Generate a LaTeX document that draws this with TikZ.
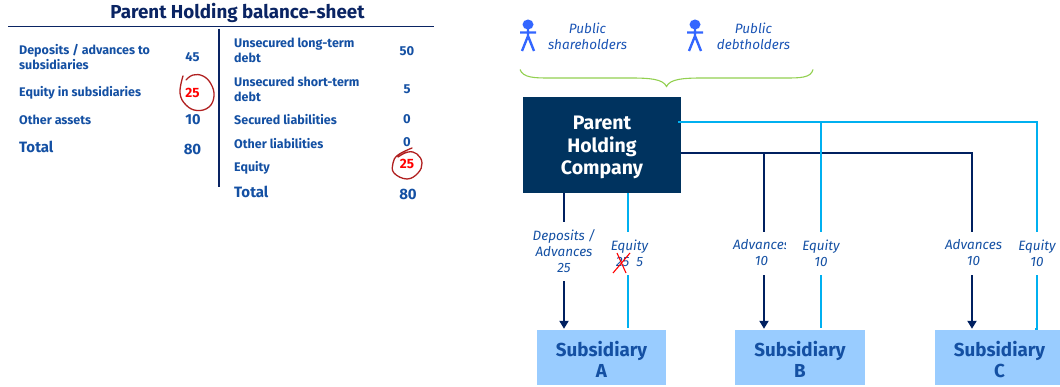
\documentclass[tikz,border=0pt]{standalone}
\usepackage{fontspec}
\setmainfont{Fira Sans}
\usetikzlibrary{arrows.meta}
\definecolor{tnavy}{HTML}{0A2463}
\definecolor{tblue}{HTML}{1450A3}
\definecolor{lnavy}{HTML}{002060}
\definecolor{lcyan}{HTML}{00B0F0}
\definecolor{pbox}{HTML}{00335F}
\definecolor{sbox}{HTML}{99CCFF}
\definecolor{pers}{HTML}{3366FF}
\definecolor{ink}{HTML}{B02020}
\definecolor{pgreen}{HTML}{92D050}
\tikzset{
  x=1pt,y=-1pt,
  rowtext/.style={anchor=west,inner sep=0,align=left,text=tblue,font=\bfseries\fontsize{12.5}{15}\selectfont},
  totaltext/.style={anchor=west,inner sep=0,text=tblue,font=\bfseries\fontsize{15}{18}\selectfont},
  numtext/.style={inner sep=0,text=tblue,font=\bfseries\fontsize{13}{15}\selectfont},
  totalnum/.style={inner sep=0,text=tblue,font=\bfseries\fontsize{15}{18}\selectfont},
  rednum/.style={inner sep=0,text=red,font=\bfseries\fontsize{13.5}{15}\selectfont},
  redring/.style={draw=ink,line width=1.3pt,line cap=round},
  parentbox/.style={fill=pbox,inner sep=0,minimum width=158pt,minimum height=96pt},
  subbox/.style={fill=sbox,inner sep=0,minimum height=55pt},
  parenttext/.style={inner sep=0,align=center,text=white,font=\bfseries\fontsize{19.5}{22.5}\selectfont},
  subtext/.style={inner sep=0,align=center,text=tblue,font=\bfseries\fontsize{18.8}{21.5}\selectfont},
  flowlabel/.style={inner sep=0,align=center,text=tblue,minimum height=44pt,font=\itshape\fontsize{13.5}{16}\selectfont},
  publabel/.style={inner sep=0,align=center,text=tblue!80!pers,font=\itshape\fontsize{13.5}{16}\selectfont},
  navyline/.style={draw=lnavy,line width=2pt},
  cyanline/.style={draw=lcyan,line width=2pt},
  navyarrow/.style={navyline,shorten >=1pt,-{Triangle[length=8pt,width=9pt]}},
  person/.style={draw=pers,line width=2.4pt},
}
\begin{document}
\begin{tikzpicture}
\useasboundingbox (0,0) rectangle (1060,387);

% balance sheet
\node[inner sep=0,text=tnavy,font=\bfseries\fontsize{18.8}{20}\selectfont] (title) at (237.5,12.5) {Parent Holding balance-sheet};
\coordinate (rl) at (8,26.5); \coordinate (rr) at (434,26.5);
\draw[draw=tnavy,line width=1.8pt] (rl) -- (rr);
\coordinate (vt) at (218.5,29); \coordinate (vb) at (218.5,187);
\draw[draw=tnavy,line width=2pt] (vt) -- (vb);

\node[rowtext] (l1) at (19,57.5) {Deposits / advances to\\subsidiaries};
\node[numtext] (n1) at (192.5,57) {45};
\node[rowtext] (l2) at (19,93) {Equity in subsidiaries};
\node[rednum] (n2) at (192.5,92.5) {25};
\node[rowtext] (l3) at (19,119.5) {Other assets};
\node[numtext,font=\bfseries\fontsize{14.5}{16}\selectfont] (n3) at (193,119.5) {10};
\node[totaltext] (l4) at (19,147) {Total};
\node[totalnum] (n4) at (192.5,149) {80};

\node[rowtext] (r1) at (234,50.5) {Unsecured long-term\\debt};
\node[numtext] (m1) at (407,51) {50};
\node[rowtext] (r2) at (234,89.5) {Unsecured short-term\\debt};
\node[numtext] (m2) at (407,89.5) {5};
\node[rowtext] (r3) at (234,119.5) {Secured liabilities};
\node[numtext] (m3) at (407,119) {0};
\node[rowtext] (r4) at (234,144) {Other liabilities};
\node[numtext] (m4) at (407,142) {0};
\node[rowtext] (r5) at (234,168) {Equity};
\node[rednum] (m5) at (407,164) {25};
\node[totaltext] (r6) at (234,192) {Total};
\node[totalnum] (m6) at (408,194) {80};

\draw[redring] plot[smooth,tension=0.7] coordinates {(183,76) (180,93) (186,105) (197,110.5) (209,107) (214,96) (211,84) (203,76) (193,75) (186,80)};
\draw[redring] plot[smooth,tension=0.7] coordinates {(412,148) (398,155) (393,163) (394,173) (407,179) (418,173) (422,163) (417,154) (408,152) (398,157)};

% public holders
\fill[pers] (528,24.5) ellipse (5.5pt and 5pt);
\draw[person] (520,32.5) -- (536,32.5) (528,28) -- (528,39) (522,51) -- (528,36) -- (534,51);
\fill[pers] (695,24.5) ellipse (5.5pt and 5pt);
\draw[person] (687,32.5) -- (703,32.5) (695,28) -- (695,39) (689,51) -- (695,36) -- (701,51);
\node[publabel] (psh) at (587.5,36.5) {Public\\shareholders};
\node[publabel] (pdh) at (753.5,36.5) {Public\\debtholders};
\draw[draw=pgreen,line width=1.1pt] (520,69.5) .. controls (523,78) and (535,78) .. (550,78)
  -- (630,78) .. controls (650,78) and (663,79) .. (666.5,86.5)
  .. controls (670,79) and (683,78) .. (703,78) -- (785,78)
  .. controls (800,78) and (811,78) .. (813,69.5);

% boxes
\node[parentbox] (parent) at (602,145) {};
\node[parenttext] (ptext) at (602,147.5) {Parent\\Holding\\Company};
\node[subbox,minimum width=129pt] (subA) at (601.5,357.5) {};
\node[subbox,minimum width=130pt] (subB) at (800,357.5) {};
\node[subbox,minimum width=125pt] (subC) at (997.5,357.5) {};
\node[subtext] (tA) at (601.5,359.5) {Subsidiary\\A};
\node[subtext] (tB) at (800,359.5) {Subsidiary\\B};
\node[subtext] (tC) at (999.5,359.5) {Subsidiary\\C};

% labels
\node[flowlabel,minimum height=59pt] (fa1) at (564,251.5) {Deposits /\\Advances\\25};
\node[flowlabel] (fa2) at (629.5,253) {Equity\\25\hspace{7pt}5};
\begin{scope}
\clip (730,225) rectangle (785,280);
\node[flowlabel] (fb1) at (761.5,253) {Advances\\10};
\end{scope}
\node[flowlabel] (fb2) at (821,253) {Equity\\10};
\begin{scope}
\clip (940,225) rectangle (1001,280);
\node[flowlabel] (fc1) at (973.5,253) {Advances\\10};
\end{scope}
\node[flowlabel] (fc2) at (1037,253) {Equity\\10};
\draw[draw=red,line width=1.1pt] (613,273) -- (630,253) (617,253) -- (626,273);

% connector junctions
\coordinate (pc) at (678,122);
\coordinate (pn) at (681,153);
\coordinate (c1) at (821,122);
\coordinate (c2) at (1037,122);
\coordinate (n1a) at (764,153);
\coordinate (n2a) at (972,153);
\coordinate (xa1) at (564,0);
\coordinate (xa2) at (628,0);

% subsidiary A
\draw[navyline] (parent.south -| xa1) -- (fa1.north);
\draw[navyarrow] (fa1.south) -- (subA.north -| xa1);
\draw[cyanline,shorten >=-1pt] (parent.south -| xa2) -- (fa2.north -| xa2);
\draw[cyanline,shorten >=2pt] (fa2.south -| xa2) -- (subA.north -| xa2);
% subsidiary B
\draw[navyline,shorten >=-1pt] (pn) -- (n2a) -- (fc1.north -| n2a);
\draw[navyline,shorten >=-1pt] (n1a) -- (fb1.north -| n1a);
\draw[navyarrow] (fb1.south -| n1a) -- (subB.north -| n1a);
\draw[cyanline,shorten >=-1pt] (pc) -- (c2) -- (fc2.north);
\draw[cyanline,shorten >=-1pt] (c1) -- (fb2.north);
\draw[cyanline,shorten >=2pt] (fb2.south) -- (subB.north -| fb2);
% subsidiary C
\draw[navyarrow] (fc1.south -| n2a) -- (subC.north -| n2a);
\coordinate (hook) at (1037,328.5);
\draw[cyanline] (fc2.south) -- (hook) -- ++(-2.5,0);
\end{tikzpicture}
\end{document}
